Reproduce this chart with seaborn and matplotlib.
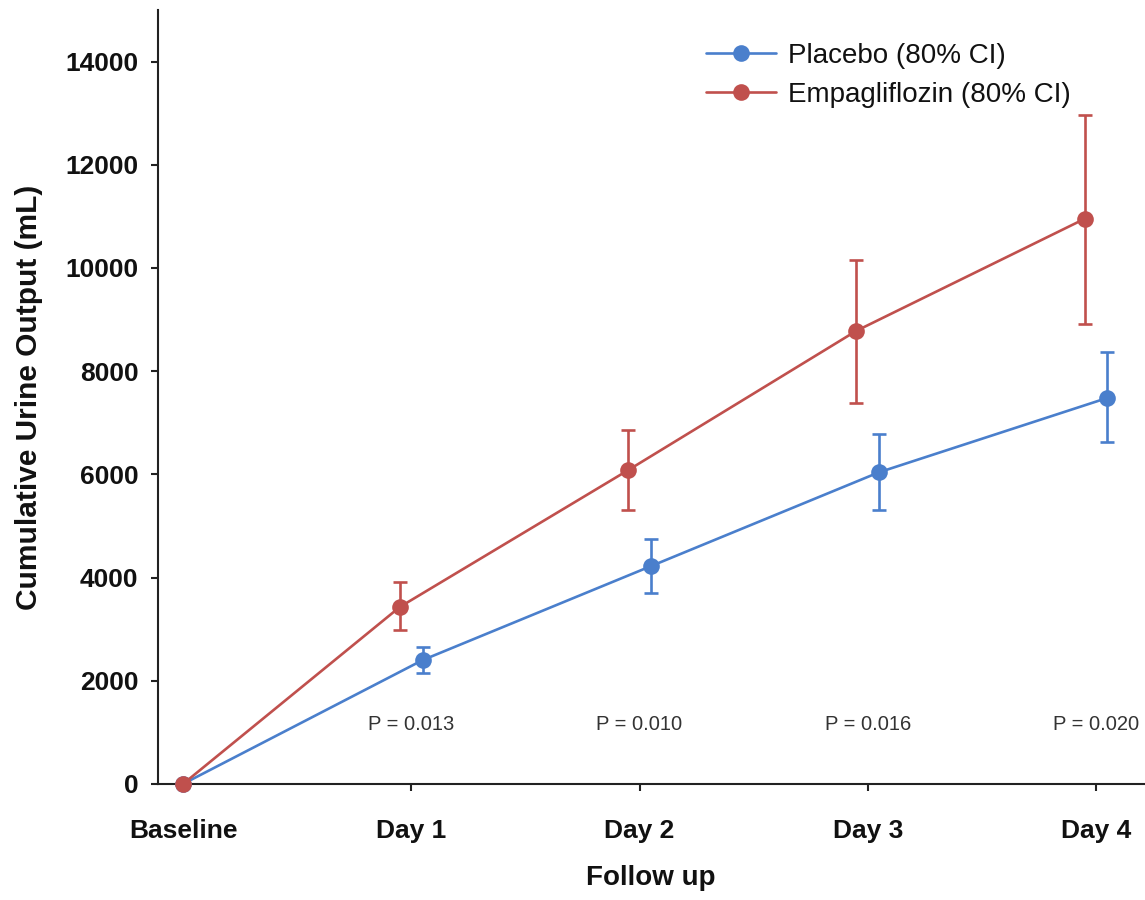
import numpy as np
import pandas as pd
import matplotlib
matplotlib.use('Agg')
import matplotlib.pyplot as plt
import seaborn as sns

# values (mL)
timepoints = ['Baseline', 'Day 1', 'Day 2', 'Day 3', 'Day 4']
placebo_mean = [0, 2400, 4220, 6040, 7480]
placebo_lo = [0, 2150, 3700, 5300, 6620]
placebo_hi = [0, 2650, 4750, 6780, 8370]
empa_mean = [0, 3430, 6080, 8780, 10950]
empa_lo = [0, 2990, 5300, 7380, 8920]
empa_hi = [0, 3910, 6860, 10150, 12960]
p_values = ['P = 0.013', 'P = 0.010', 'P = 0.016', 'P = 0.020']

blue = '#4a7fcc'
red = '#c0504d'

sns.set_style('ticks')
plt.rcParams['font.family'] = ['Liberation Sans', 'DejaVu Sans']
plt.rcParams['text.color'] = '#111111'
plt.rcParams['axes.labelcolor'] = '#111111'
plt.rcParams['xtick.color'] = '#222222'
plt.rcParams['ytick.color'] = '#222222'
plt.rcParams['xtick.labelcolor'] = '#111111'
plt.rcParams['ytick.labelcolor'] = '#111111'
plt.rcParams['axes.edgecolor'] = '#222222'

pos = np.arange(len(timepoints))
df = pd.concat([
    pd.DataFrame({'x': pos + np.where(pos > 0, 0.05, 0), 'y': placebo_mean,
                  'lo': placebo_lo, 'hi': placebo_hi, 'group': 'Placebo (80% CI)'}),
    pd.DataFrame({'x': pos - np.where(pos > 0, 0.05, 0), 'y': empa_mean,
                  'lo': empa_lo, 'hi': empa_hi, 'group': 'Empagliflozin (80% CI)'}),
])

fig, ax = plt.subplots(figsize=(11.45, 9), dpi=100)
fig.subplots_adjust(left=0.138, right=0.999, bottom=0.129, top=0.989)

palette = {'Placebo (80% CI)': blue, 'Empagliflozin (80% CI)': red}
sns.lineplot(data=df, x='x', y='y', hue='group', palette=palette, marker='o',
             markersize=12, markeredgewidth=0, linewidth=1.9, ax=ax,
             legend=True, clip_on=False, zorder=3)

for name, col in palette.items():
    d = df[(df['group'] == name) & (df['x'] > 0)]
    ax.errorbar(d['x'], d['y'], yerr=[d['y'] - d['lo'], d['hi'] - d['y']],
                fmt='none', ecolor=col, elinewidth=1.9, capsize=5, capthick=1.9,
                zorder=2)

for i, txt in enumerate(p_values):
    ax.text(pos[i + 1], 1160, txt, ha='center', va='center', fontsize=14.5,
            color='#333333')

ax.set_xlim(-0.11, 4.21)
ax.set_ylim(0, 15000)
ax.set_yticks(np.arange(0, 14001, 2000))
ax.set_xticks(pos)
ax.set_xticklabels(timepoints)
for lab in ax.get_xticklabels() + ax.get_yticklabels():
    lab.set_fontweight('bold')
    lab.set_fontsize(19)
ax.tick_params(axis='both', length=5, width=1.5)
ax.tick_params(axis='x', pad=20)
ax.tick_params(axis='y', pad=9)
ax.spines['left'].set_linewidth(1.5)
ax.spines['bottom'].set_linewidth(1.5)
sns.despine(ax=ax)

ax.set_xlabel('Follow up', fontsize=20, fontweight='bold', labelpad=16)
ax.set_ylabel('Cumulative Urine Output (mL)', fontsize=21.5, fontweight='bold',
              labelpad=16)

leg = ax.legend(loc='upper left', bbox_to_anchor=(0.556, 0.957), frameon=False,
                fontsize=20, handlelength=2.5, handletextpad=0.45,
                labelspacing=0.45, borderpad=0, borderaxespad=0)

fig.savefig('out.png', dpi=100)
